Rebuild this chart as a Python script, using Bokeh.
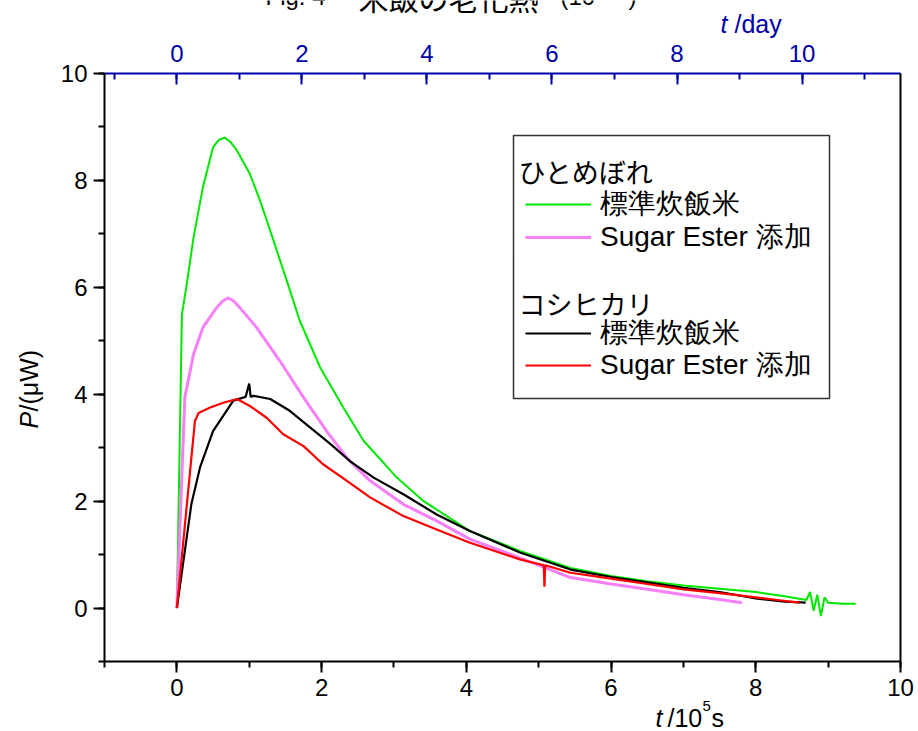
import numpy as np
from bokeh.plotting import figure
from bokeh.models import (Range1d, LinearAxis, SingleIntervalTicker, FixedTicker, Label,
                          BoxAnnotation, Legend, LegendItem)
from bokeh.embed import file_html
from bokeh.resources import INLINE

# ---------------- data (t in 10^5 s, P in µW) ----------------
green_t = [0, 0.07, 0.13, 0.23, 0.36, 0.50, 0.58, 0.66, 0.74, 0.83, 1.01, 1.15, 1.29, 1.52,
           1.70, 1.98, 2.30, 2.58, 3.04, 3.41, 4.05, 4.74, 5.44, 6.0, 6.5, 7.0, 7.5, 8.0,
           8.4, 8.7, 8.75, 8.8, 8.85, 8.9, 8.95, 9.0, 9.2, 9.38]
green_p = [0, 5.5, 6.0, 6.93, 7.87, 8.62, 8.76, 8.80, 8.72, 8.56, 8.12, 7.62, 7.06, 6.12,
           5.37, 4.50, 3.75, 3.13, 2.44, 2.00, 1.44, 1.07, 0.75, 0.60, 0.50, 0.42, 0.36, 0.30,
           0.22, 0.15, 0.30, -0.05, 0.25, -0.15, 0.20, 0.10, 0.08, 0.08]

pink_t = [0, 0.11, 0.23, 0.36, 0.55, 0.63, 0.71, 0.79, 0.87, 1.10, 1.42, 1.75, 2.07, 2.35,
          2.67, 3.13, 3.59, 4.05, 4.74, 5.44, 6.0, 6.5, 7.0, 7.5, 7.81]
pink_p = [0, 3.94, 4.75, 5.25, 5.62, 5.74, 5.80, 5.74, 5.62, 5.25, 4.63, 3.94, 3.31, 2.81,
          2.38, 1.94, 1.63, 1.29, 0.94, 0.57, 0.45, 0.35, 0.25, 0.16, 0.10]

black_t = [0, 0.20, 0.32, 0.50, 0.78, 0.95, 1.0, 1.02, 1.06, 1.29, 1.56, 1.84, 2.12, 2.39,
           2.72, 3.13, 3.59, 4.05, 4.74, 5.44, 6.0, 6.5, 7.0, 7.5, 8.0, 8.4, 8.69]
black_p = [0, 1.94, 2.63, 3.31, 3.88, 3.95, 4.2, 3.95, 3.97, 3.91, 3.69, 3.38, 3.07, 2.75,
           2.44, 2.13, 1.75, 1.44, 1.04, 0.72, 0.58, 0.48, 0.38, 0.30, 0.18, 0.12, 0.10]

red_t = [0, 0.25, 0.30, 0.46, 0.64, 0.83, 1.01, 1.24, 1.47, 1.75, 2.02, 2.35, 2.67, 3.13,
         3.59, 4.05, 4.74, 5.07, 5.08, 5.09, 5.44, 6.0, 6.5, 7.0, 7.5, 8.0, 8.3, 8.6]
red_p = [0, 3.50, 3.65, 3.75, 3.84, 3.91, 3.78, 3.56, 3.25, 3.03, 2.69, 2.38, 2.07, 1.72,
         1.47, 1.22, 0.91, 0.80, 0.40, 0.80, 0.66, 0.55, 0.45, 0.35, 0.28, 0.20, 0.15, 0.10]

group_names = ["ひとめぼれ", "コシヒカリ"]
series_names = ["標準炊飯米", "Sugar Ester 添加"]

X_MIN, X_MAX = -1, 10       # axis extent, 10^5 s
Y_MIN, Y_MAX = -1, 10       # axis extent, µW
SEC_PER_DAY = 86400.0

# ---------------- layout: the frame fills the page, axes sit at fixed places ----------------
W, H = 918, 731
AX_L, AX_R, AX_T, AX_B = 104, 900, 73, 661      # pixel box of the axes
sx = (AX_R - AX_L) / (X_MAX - X_MIN)
sy = (AX_B - AX_T) / (Y_MAX - Y_MIN)
XR = (X_MIN - AX_L / sx, X_MAX + (W - AX_R) / sx)
YR = (Y_MIN - (H - AX_B) / sy, Y_MAX + AX_T / sy)

def dx(px):
    return X_MIN + (px - AX_L) / sx

def dy(py):
    return Y_MAX - (py - AX_T) / sy

p = figure(width=W, height=H, x_range=Range1d(*XR), y_range=Range1d(*YR),
           output_backend="svg", toolbar_location=None,
           x_axis_location=None, y_axis_location=None,
           min_border=0, min_border_left=0, min_border_right=0,
           min_border_top=0, min_border_bottom=0)
p.grid.visible = False
p.outline_line_color = None
p.background_fill_color = "white"
p.border_fill_color = "white"

BLUE = "#0000a8"
FONT = "Liberation Sans"
CJK = "Noto Sans CJK JP"

def style_axis(ax, color="black", inside=False, standoff=6):
    ax.axis_line_width = 2
    ax.axis_line_color = color
    ax.major_tick_line_color = color
    ax.minor_tick_line_color = color
    ax.major_tick_line_width = 2
    ax.minor_tick_line_width = 2
    if inside:
        ax.major_tick_in, ax.major_tick_out = 11, 0
        ax.minor_tick_in, ax.minor_tick_out = 6, 0
    else:
        ax.major_tick_in, ax.major_tick_out = 0, 11
        ax.minor_tick_in, ax.minor_tick_out = 0, 6
    ax.major_label_text_font = FONT
    ax.major_label_text_font_size = "24px"
    ax.major_label_text_color = color
    ax.major_label_standoff = standoff

bottom = LinearAxis(ticker=SingleIntervalTicker(interval=2, num_minor_ticks=2),
                    fixed_location=Y_MIN, bounds=(X_MIN, X_MAX))
style_axis(bottom, standoff=6)
p.add_layout(bottom, "below")

left = LinearAxis(ticker=SingleIntervalTicker(interval=2, num_minor_ticks=2),
                  fixed_location=X_MIN, bounds=(Y_MIN, Y_MAX))
style_axis(left, standoff=6)
p.add_layout(left, "left")

to_day = 1e5 / SEC_PER_DAY
p.extra_x_ranges = {"day": Range1d(XR[0] * to_day, XR[1] * to_day)}
top = LinearAxis(x_range_name="day", ticker=SingleIntervalTicker(interval=2, num_minor_ticks=2),
                 fixed_location=Y_MAX, bounds=(X_MIN * to_day, X_MAX * to_day))
style_axis(top, color=BLUE, inside=True, standoff=12)
p.add_layout(top, "above")

right = LinearAxis(ticker=FixedTicker(ticks=[]), fixed_location=X_MAX, bounds=(Y_MIN, Y_MAX))
right.axis_line_width = 2
right.axis_line_color = "black"
right.major_tick_line_color = None
right.minor_tick_line_color = None
p.add_layout(right, "right")

# ---------------- curves ----------------
COLORS = ["#00e800", "#f77ff7", "black", "#ff0000"]
g = p.line(green_t, green_p, line_color=COLORS[0], line_width=2)
pk = p.line(pink_t, pink_p, line_color=COLORS[1], line_width=3)
bk = p.line(black_t, black_p, line_color=COLORS[2], line_width=2.2)
rd = p.line(red_t, red_p, line_color=COLORS[3], line_width=2.2)

# ---------------- legend box ----------------
p.add_layout(BoxAnnotation(left=dx(513), right=dx(829), top=dy(135), bottom=dy(398),
                           fill_color="white", fill_alpha=1.0,
                           line_color="#333333", line_alpha=1.0, line_width=1.5))

ROW_H = 38
def add_legend_row(label, renderer, center_py):
    leg = Legend(items=[LegendItem(label=label, renderers=[renderer])],
                 location=(525, H - (center_py + ROW_H / 2)),
                 border_line_color=None, background_fill_alpha=0,
                 padding=0, margin=0, spacing=0, glyph_width=66, glyph_height=20,
                 label_height=20, label_standoff=9,
                 label_text_font=FONT, label_text_font_size="28px",
                 label_text_color="black", label_text_baseline="middle")
    p.add_layout(leg)

add_legend_row(series_names[0], g, 204)
add_legend_row(series_names[1], pk, 237)
add_legend_row(series_names[0], bk, 333)
add_legend_row(series_names[1], rd, 365)

BASE_SHIFT = 8   # Bokeh draws "alphabetic" text a little low; compensate

def text(px, py, s, size="25px", italic=False, color="black", font=FONT,
         angle=0.0, baseline="alphabetic"):
    if baseline == "alphabetic":
        py -= BASE_SHIFT
    p.add_layout(Label(x=dx(px), y=dy(py), text=s, text_font=font, text_font_size=size,
                       text_color=color, text_baseline=baseline, text_align="left",
                       angle=angle, text_font_style="italic" if italic else "normal"))

for name, py in zip(group_names, [171, 303]):
    text(518, py, name, size="27px", font=CJK, baseline="middle")

# bottom: t /10^5 s
text(655, 725, "t", italic=True)
text(667, 725, "/10")
text(702, 713, "5", size="15px")
text(711, 725, "s")

# top: t /day
text(720, 31, "t", italic=True, color=BLUE)
text(734, 31, "/day", color=BLUE)

# left: P/(µW)
text(28, 428, "P", italic=True, angle=np.pi / 2, baseline="middle")
text(28, 411, "/(μW)", angle=np.pi / 2, baseline="middle")

# title (its upper part lies beyond the top of the page, as in the source)
text(265, 4, "Fig. 4", size="24px")
text(358, 4, "米飯の老化熱", size="30px", font=CJK)
text(560, 4, "(10", size="24px")
text(600, 1, "−6", size="15px")
text(628, 4, ")", size="24px")

open("out.html", "w").write(file_html(p, INLINE))
